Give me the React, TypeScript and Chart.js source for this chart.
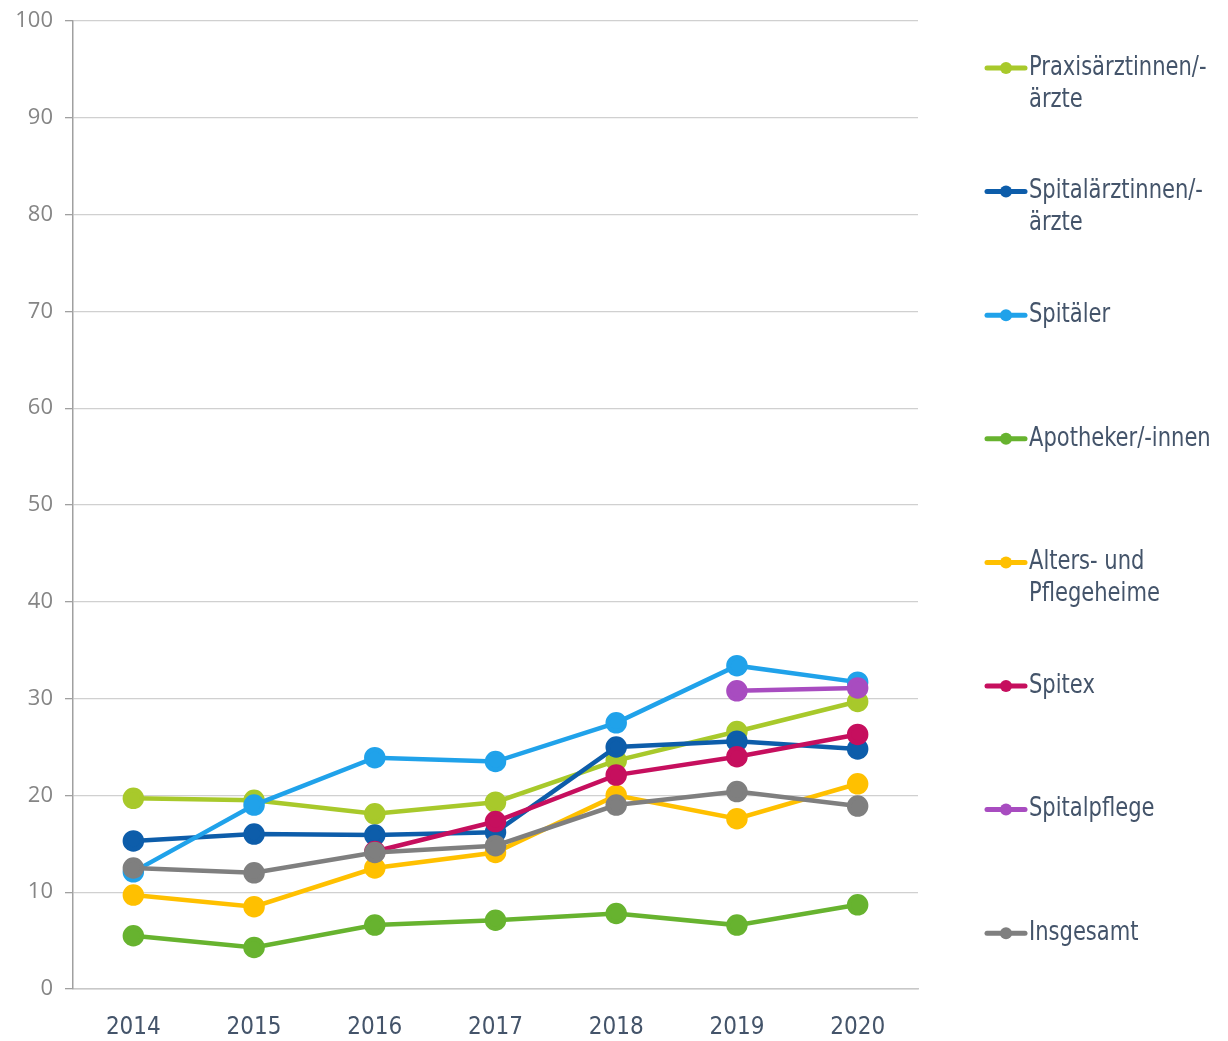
import React, { useEffect, useRef } from "react";
import { Chart, registerables } from "chart.js";

Chart.register(...registerables);

const years = ["2014", "2015", "2016", "2017", "2018", "2019", "2020"];

const seriesNames: string[][] = [
  ["Praxisärztinnen/-", "ärzte"],
  ["Spitalärztinnen/-", "ärzte"],
  ["Spitäler"],
  ["Apotheker/-innen"],
  ["Alters- und", "Pflegeheime"],
  ["Spitex"],
  ["Spitalpflege"],
  ["Insgesamt"],
];

const praxis = [19.7, 19.5, 18.1, 19.3, 23.6, 26.6, 29.7];
const spitalaerzte = [15.3, 16.0, 15.9, 16.2, 25.0, 25.6, 24.8];
const spitaeler = [12.1, 19.0, 23.9, 23.5, 27.5, 33.4, 31.7];
const apotheker = [5.5, 4.3, 6.6, 7.1, 7.8, 6.6, 8.7];
const heime = [9.7, 8.5, 12.5, 14.1, 20.0, 17.6, 21.2];
const spitex = [null, null, 14.2, 17.3, 22.1, 24.0, 26.3];
const spitalpflege = [null, null, null, null, null, 30.8, 31.1];
const insgesamt = [12.5, 12.0, 14.1, 14.8, 19.0, 20.4, 18.9];

const seriesValues = [praxis, spitalaerzte, spitaeler, apotheker, heime, spitex, spitalpflege, insgesamt];
const seriesColors = ["#A8C92B", "#0D5DAA", "#20A2EA", "#67B32F", "#FFC000", "#C60F5E", "#A84CC0", "#7F7F7F"];

const yTicks = [0, 10, 20, 30, 40, 50, 60, 70, 80, 90, 100];

const condensed = "'Liberation Sans Narrow', 'DejaVu Sans Condensed', 'Roboto', sans-serif";
const textColor = "#44546A";

const legendPlugin = {
  id: "sideLegend",
  afterDraw(chart: any) {
    const ctx = chart.ctx;
    const area = chart.chartArea;
    const startY = area.top + 47;
    const step = 123.6;
    const lineX0 = area.right + 69;
    const lineX1 = area.right + 107;
    const textX = area.right + 111;
    const squeeze = 0.9;
    ctx.save();
    seriesNames.forEach((lines, i) => {
      const y = startY + i * step;
      const color = seriesColors[i];
      ctx.strokeStyle = color;
      ctx.lineWidth = 5;
      ctx.lineCap = "round";
      ctx.beginPath();
      ctx.moveTo(lineX0, y);
      ctx.lineTo(lineX1, y);
      ctx.stroke();
      ctx.fillStyle = color;
      ctx.beginPath();
      ctx.arc((lineX0 + lineX1) / 2, y, 6, 0, Math.PI * 2);
      ctx.fill();
      ctx.fillStyle = textColor;
      ctx.font = `26px ${condensed}`;
      ctx.textAlign = "left";
      ctx.textBaseline = "middle";
      lines.forEach((t, j) => {
        ctx.save();
        ctx.translate(textX, y + j * 32);
        ctx.scale(squeeze, 1);
        ctx.fillText(t, 0, 0);
        ctx.restore();
      });
    });
    ctx.restore();
  },
};

export default function App() {
  const ref = useRef<HTMLCanvasElement>(null);

  useEffect(() => {
    document.body.style.margin = "0";
    const n = seriesValues.length;
    const chart = new Chart(ref.current!, {
      type: "line",
      data: {
        labels: years,
        datasets: seriesValues.map((vals, i) => ({
          label: seriesNames[i].join(" "),
          data: vals,
          borderColor: seriesColors[i],
          backgroundColor: seriesColors[i],
          pointBackgroundColor: seriesColors[i],
          pointBorderColor: seriesColors[i],
          borderWidth: 4.5,
          pointRadius: 8.5,
          pointHoverRadius: 8.5,
          tension: 0,
          order: n - i,
        })),
      },
      options: {
        animation: false,
        responsive: false,
        maintainAspectRatio: false,
        layout: { padding: { top: 21, right: 310, left: 0, bottom: 0 } },
        plugins: { legend: { display: false }, tooltip: { enabled: false } },
        scales: {
          x: {
            offset: true,
            grid: { display: false, drawTicks: false },
            border: { display: true, color: "#C8C8C8", width: 1.5 },
            ticks: {
              color: textColor,
              padding: 24,
              font: { family: condensed, size: 24 },
            },
            afterFit: (s: any) => {
              s.height = 52;
              s.paddingLeft = 0;
              s.paddingRight = 0;
            },
          },
          y: {
            min: 0,
            max: 100,
            afterBuildTicks: (s: any) => {
              s.ticks = yTicks.map((v) => ({ value: v }));
            },
            grid: { color: "#D0D0D0", lineWidth: 1.3, tickLength: 8, tickColor: "#A0A0A0" },
            border: { display: true, color: "#A0A0A0", width: 1.5 },
            ticks: {
              color: "#858585",
              padding: 12,
              font: { family: "'Open Sans', sans-serif", size: 22 },
            },
            afterFit: (s: any) => {
              s.width = 73;
              s.paddingTop = 0;
              s.paddingBottom = 0;
            },
          },
        },
      },
      plugins: [legendPlugin],
    });
    return () => chart.destroy();
  }, []);

  return (
    <div style={{ position: "absolute", left: 0, top: 0, width: 1228, height: 1041 }}>
      <canvas ref={ref} width={1228} height={1041} style={{ width: 1228, height: 1041 }} />
    </div>
  );
}
